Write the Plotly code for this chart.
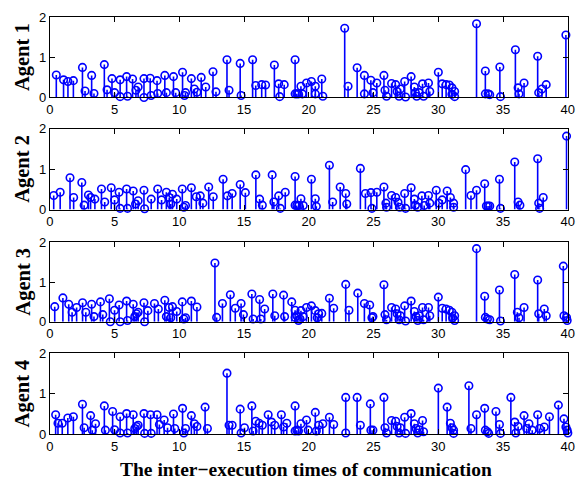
import plotly.graph_objects as go

# ---------------- data (time, inter-execution interval) ----------------
agent1_t = [0.5, 1.06, 1.4, 1.82, 2.52, 2.72, 3.23, 3.41, 4.21, 4.42, 4.8, 5.0, 5.43, 5.43, 5.93, 6.0,
            6.39, 6.65, 6.82, 7.27, 7.27, 7.75, 7.82, 8.28, 8.33, 8.88, 9.0, 9.55, 9.72, 10.25, 10.4,
            10.48, 10.93, 11.16, 11.36, 11.69, 12.04, 12.6, 12.83, 13.68, 13.84, 14.7, 14.77, 15.66,
            15.9, 16.36, 16.66, 17.34, 17.67, 17.75, 18.1, 18.94, 18.94, 19.07, 19.2, 19.39, 19.5,
            19.82, 20.2, 20.5, 20.5, 21.0, 21.08, 22.77, 23.03, 23.73, 24.29, 24.29, 24.79, 24.95,
            25.25, 25.8, 25.88, 26.0, 26.39, 26.71, 26.82, 26.97, 27.07, 27.4, 27.47, 27.9, 28.15,
            28.23, 28.33, 28.53, 28.78, 28.86, 29.24, 29.34, 30.0, 30.3, 30.6, 30.85, 31.05, 31.05,
            31.26, 31.26, 32.95, 33.63, 33.63, 33.84, 33.97, 34.75, 34.8, 35.95, 36.16, 36.23, 36.62,
            37.67, 37.75, 38.0, 38.33, 39.85]
agent1_v = [0.56, 0.44, 0.40, 0.42, 0.75, 0.16, 0.55, 0.10, 0.82, 0.19, 0.47, 0.12, 0.44, 0.02, 0.52, 0.03,
            0.46, 0.18, 0.26, 0.00, 0.47, 0.48, 0.05, 0.42, 0.10, 0.55, 0.12, 0.52, 0.12, 0.63, 0.05,
            0.12, 0.47, 0.21, 0.13, 0.50, 0.26, 0.64, 0.14, 0.94, 0.18, 0.85, 0.05, 0.94,
            0.30, 0.32, 0.31, 0.81, 0.34, 0.02, 0.32, 0.94, 0.09, 0.09, 0.09, 0.28, 0.09,
            0.36, 0.40, 0.28, 0.09, 0.46, 0.03, 1.73, 0.28, 0.74, 0.55, 0.09, 0.43, 0.12,
            0.36, 0.55, 0.18, 0.03, 0.35, 0.32, 0.15, 0.03, 0.21, 0.40, 0.01, 0.52, 0.26,
            0.12, 0.03, 0.12, 0.34, 0.03, 0.36, 0.15, 0.63, 0.34, 0.32, 0.31, 0.24, 0.08,
            0.15, 0.02, 1.84, 0.66, 0.09, 0.09, 0.07, 0.76, 0.02, 1.19, 0.24, 0.09, 0.36,
            1.03, 0.12, 0.21, 0.32, 1.56]

agent2_t = [0.3, 0.8, 1.56, 1.84, 2.47, 2.65, 2.98, 3.15, 3.48, 3.99, 4.24, 4.74, 5.0, 5.35, 5.43, 5.93,
            6.0, 6.44, 6.62, 6.82, 7.27, 7.32, 7.83, 8.33, 8.63, 9.0, 9.22, 9.34, 9.47, 9.8, 10.23,
            10.35, 10.48, 10.93, 11.31, 11.62, 11.82, 12.27, 12.62, 13.38, 13.71, 14.08, 14.7, 15.1,
            15.91, 16.2, 16.41, 17.17, 17.3, 17.67, 17.8, 18.18, 18.94, 18.94, 19.07, 19.24, 19.39,
            19.57, 20.2, 20.5, 20.58, 21.59, 21.84, 22.42, 22.85, 22.93, 23.98, 24.37, 24.8, 24.87,
            25.25, 25.8, 25.95, 26.0, 26.39, 26.71, 26.89, 27.02, 27.4, 27.47, 27.9, 28.15, 28.23,
            28.41, 28.73, 28.91, 29.24, 29.34, 29.84, 30.04, 30.3, 30.68, 30.93, 31.18, 31.18, 32.11,
            32.52, 32.95, 33.58, 33.71, 33.84, 33.97, 34.72, 34.8, 35.9, 36.16, 36.3, 37.67, 37.75,
            37.82, 38.1, 39.9]
agent2_v = [0.35, 0.43, 0.79, 0.30, 0.67, 0.11, 0.36, 0.30, 0.26, 0.51, 0.19, 0.54, 0.24, 0.43, 0.03, 0.51,
            0.03, 0.46, 0.14, 0.22, 0.48, 0.02, 0.26, 0.51, 0.24, 0.43, 0.30, 0.14, 0.38, 0.26, 0.51,
            0.06, 0.10, 0.54, 0.32, 0.34, 0.16, 0.56, 0.32, 0.75, 0.34, 0.40, 0.62, 0.42,
            0.86, 0.26, 0.11, 0.86, 0.19, 0.34, 0.03, 0.43, 0.82, 0.11, 0.10, 0.10, 0.27,
            0.10, 0.75, 0.27, 0.08, 1.10, 0.19, 0.56, 0.40, 0.14, 1.02, 0.40, 0.42, 0.03,
            0.43, 0.56, 0.16, 0.06, 0.35, 0.30, 0.18, 0.06, 0.40, 0.03, 0.54, 0.26, 0.11,
            0.06, 0.34, 0.10, 0.35, 0.16, 0.48, 0.16, 0.24, 0.46, 0.30, 0.16, 0.06, 0.99,
            0.35, 0.48, 0.64, 0.09, 0.09, 0.09, 0.75, 0.03, 1.18, 0.19, 0.11, 1.26, 0.16,
            0.03, 0.30, 1.82]

agent3_t = [0.38, 1.01, 1.46, 1.72, 2.07, 2.53, 2.78, 3.23, 3.41, 3.91, 4.09, 4.6, 4.67, 5.0, 5.35, 5.43,
            5.93, 6.0, 6.44, 6.56, 6.69, 6.82, 7.27, 7.32, 7.57, 8.08, 8.38, 8.88, 9.0, 9.22, 9.34,
            9.47, 9.8, 10.23, 10.35, 10.48, 10.93, 11.36, 12.75, 12.88, 13.33, 13.94, 14.32, 14.77,
            14.95, 15.6, 15.7, 16.2, 16.29, 16.59, 17.22, 17.37, 18.05, 18.13, 18.68, 18.94, 18.94,
            19.07, 19.2, 19.32, 19.39, 19.57, 19.82, 20.2, 20.5, 20.65, 20.76, 21.0, 21.59, 21.92,
            22.85, 23.1, 23.78, 24.29, 24.7, 24.87, 24.95, 25.8, 25.88, 26.0, 26.39, 26.71, 26.82,
            26.97, 27.07, 27.4, 27.47, 27.9, 28.15, 28.28, 28.41, 28.53, 28.78, 28.86, 29.24, 29.34,
            30.0, 30.3, 30.6, 30.85, 31.05, 31.1, 31.26, 31.26, 32.95, 33.58, 33.63, 33.79, 33.97,
            34.72, 34.8, 35.9, 36.1, 36.23, 36.62, 37.67, 37.75, 38.18, 38.33, 39.65, 39.7, 39.9,
            39.95]
agent3_v = [0.38, 0.60, 0.44, 0.24, 0.36, 0.48, 0.24, 0.44, 0.13, 0.50, 0.18, 0.58, 0.00, 0.29, 0.42, 0.00,
            0.52, 0.03, 0.44, 0.13, 0.20, 0.24, 0.48, 0.00, 0.28, 0.46, 0.32, 0.54, 0.13, 0.36, 0.10,
            0.38, 0.26, 0.50, 0.07, 0.10, 0.52, 0.37, 1.48, 0.11, 0.46, 0.68, 0.34, 0.46,
            0.18, 0.70, 0.07, 0.56, 0.07, 0.32, 0.70, 0.15, 0.67, 0.13, 0.50, 0.29, 0.11,
            0.15, 0.03, 0.07, 0.28, 0.13, 0.36, 0.40, 0.28, 0.10, 0.20, 0.21, 0.59, 0.34,
            0.94, 0.29, 0.72, 0.46, 0.42, 0.10, 0.13, 0.93, 0.18, 0.05, 0.36, 0.32, 0.20,
            0.05, 0.15, 0.40, 0.02, 0.52, 0.26, 0.13, 0.03, 0.15, 0.36, 0.05, 0.36, 0.15,
            0.62, 0.34, 0.32, 0.29, 0.24, 0.10, 0.15, 0.03, 1.84, 0.64, 0.11, 0.07, 0.05,
            0.80, 0.02, 1.19, 0.24, 0.10, 0.36, 1.05, 0.20, 0.32, 0.15, 1.40, 0.15, 0.11,
            0.03]

agent4_t = [0.45, 0.63, 0.96, 1.39, 1.82, 2.52, 2.65, 3.15, 3.28, 3.53, 4.21, 4.29, 4.85, 5.0, 5.43, 5.43,
            5.93, 6.0, 6.44, 6.56, 6.69, 6.82, 7.27, 7.32, 7.78, 7.83, 8.28, 8.46, 8.83, 9.09, 9.55,
            9.65, 10.25, 10.35, 10.48, 10.93, 11.16, 11.36, 11.99, 12.17, 13.68, 13.84, 14.08, 14.7,
            14.77, 15.03, 15.6, 15.7, 15.9, 16.16, 16.41, 16.86, 17.12, 17.37, 17.88, 18.05, 18.3,
            18.94, 18.94, 19.07, 19.2, 19.39, 19.82, 19.95, 20.5, 20.58, 20.76, 21.08, 21.59, 21.92,
            22.85, 22.85, 23.73, 23.98, 24.75, 24.79, 24.95, 25.8, 25.88, 26.0, 26.39, 26.71, 26.82,
            26.97, 27.07, 27.4, 27.47, 27.9, 28.15, 28.28, 28.41, 28.53, 28.78, 28.86, 30.0, 30.68,
            30.93, 31.05, 31.18, 31.18, 32.36, 32.52, 32.95, 33.58, 33.63, 33.79, 33.89, 34.45, 34.72,
            34.8, 35.6, 35.9, 35.98, 36.16, 36.62, 36.82, 37.0, 37.25, 37.67, 37.82, 38.18, 38.58,
            39.27, 39.7, 39.85, 39.95, 40.0]
agent4_v = [0.48, 0.27, 0.27, 0.40, 0.43, 0.74, 0.16, 0.46, 0.10, 0.26, 0.70, 0.10, 0.56, 0.11, 0.43, 0.03,
            0.51, 0.03, 0.48, 0.14, 0.19, 0.22, 0.51, 0.02, 0.48, 0.02, 0.48, 0.24, 0.35, 0.16, 0.50,
            0.14, 0.64, 0.03, 0.14, 0.46, 0.26, 0.19, 0.67, 0.14, 1.51, 0.22, 0.22, 0.62,
            0.03, 0.16, 0.70, 0.08, 0.32, 0.27, 0.22, 0.48, 0.30, 0.22, 0.48, 0.18, 0.27,
            0.70, 0.08, 0.10, 0.08, 0.26, 0.35, 0.10, 0.54, 0.08, 0.22, 0.26, 0.42, 0.24,
            0.91, 0.03, 0.91, 0.22, 0.75, 0.10, 0.10, 0.91, 0.16, 0.03, 0.34, 0.32, 0.19,
            0.03, 0.16, 0.42, 0.02, 0.51, 0.26, 0.14, 0.03, 0.11, 0.34, 0.06, 1.14, 0.67,
            0.27, 0.16, 0.10, 0.02, 1.20, 0.14, 0.48, 0.64, 0.10, 0.06, 0.02, 0.56, 0.24,
            0.02, 0.91, 0.30, 0.03, 0.19, 0.46, 0.14, 0.26, 0.10, 0.48, 0.14, 0.18, 0.43,
            0.72, 0.38, 0.18, 0.10, 0.03]

agent_labels = ["Agent 1", "Agent 2", "Agent 3", "Agent 4"]
x_ticks = [0, 5, 10, 15, 20, 25, 30, 35, 40]
y_ticks = [0, 1, 2]
x_title = "The inter\u2212execution times of communication"

series = [(agent1_t, agent1_v), (agent2_t, agent2_v), (agent3_t, agent3_v), (agent4_t, agent4_v)]

# ---------------- figure ----------------
W, H = 582, 490
blue = "#0000ff"
panel_px = [(10.7, 93.3), (125.7, 209.0), (242.7, 324.7), (357.3, 440.7)]
x_dom = [46.7 / W, 574.7 / W]

fig = go.Figure()
layout = dict(
    width=W, height=H, margin=dict(l=0, r=0, t=0, b=0),
    plot_bgcolor="white", paper_bgcolor="white", showlegend=False,
    font=dict(family="Liberation Sans, Arial", size=13, color="black"),
)
annotations = []
for i, (t, v) in enumerate(series):
    n = i + 1
    xa = "x" if n == 1 else f"x{n}"
    ya = "y" if n == 1 else f"y{n}"
    xs, ys = [], []
    for a, b in zip(t, v):
        xs += [a, a, None]
        ys += [0, b, None]
    fig.add_trace(go.Scatter(x=xs, y=ys, mode="lines", line=dict(color=blue, width=1.6),
                             xaxis=xa, yaxis=ya, hoverinfo="skip", cliponaxis=False))
    fig.add_trace(go.Scatter(x=t, y=v, mode="markers", xaxis=xa, yaxis=ya, cliponaxis=False,
                             marker=dict(symbol="circle-open", size=7.5, color=blue,
                                         line=dict(width=1.6, color=blue))))
    top, bot = panel_px[i]
    dom = [1 - bot / H, 1 - top / H]
    axis_common = dict(showline=True, linecolor="black", linewidth=1, mirror="allticks",
                       ticks="inside", ticklen=5, tickcolor="black", showgrid=False,
                       zeroline=False, tickfont=dict(size=13, family="Liberation Sans, Arial"))
    layout["xaxis" if n == 1 else f"xaxis{n}"] = dict(
        domain=x_dom, anchor=ya, range=[0, 40], tickvals=x_ticks,
        ticktext=[str(k) for k in x_ticks], **axis_common)
    layout["yaxis" if n == 1 else f"yaxis{n}"] = dict(
        domain=dom, anchor=xa, range=[0, 2], tickvals=y_ticks,
        ticktext=[str(k) for k in y_ticks], **axis_common)
    annotations.append(dict(text=f"<b>{agent_labels[i]}</b>", xref="paper", yref="paper",
                            x=19 / W, y=1 - (top + bot) / 2 / H, textangle=-90,
                            showarrow=False, xanchor="center", yanchor="middle",
                            font=dict(family="Liberation Serif, Times New Roman", size=20.5)))
annotations.append(dict(text=f"<b>{x_title}</b>", xref="paper", yref="paper",
                        x=(122.7 + 493) / 2 / W, y=1 - 477 / H, showarrow=False,
                        xanchor="center", yanchor="middle",
                        font=dict(family="Liberation Serif, Times New Roman", size=19.5)))
layout["annotations"] = annotations
fig.update_layout(**layout)
fig.write_html("out.html")
